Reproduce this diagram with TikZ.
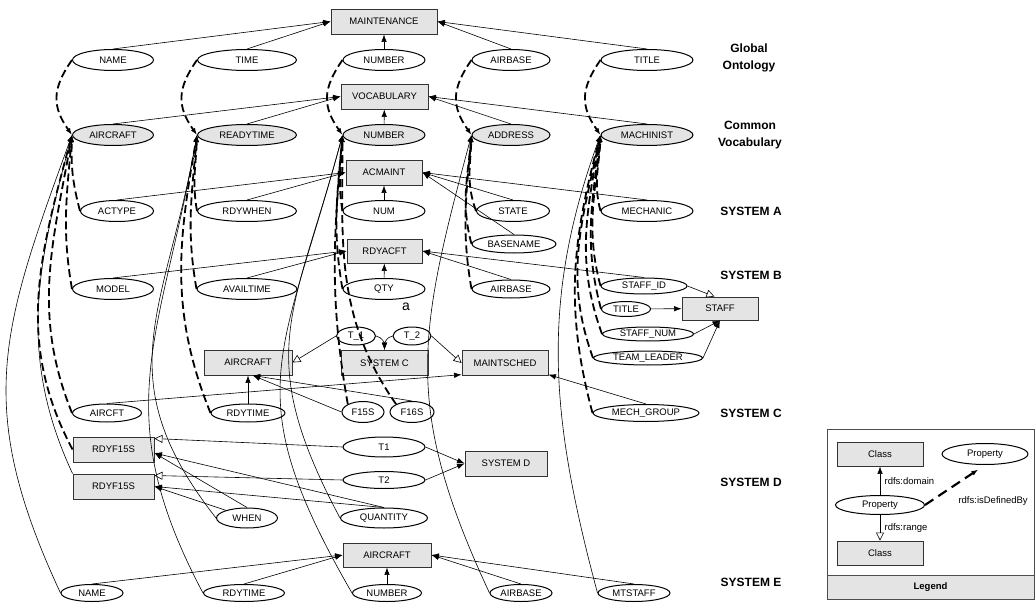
\documentclass[tikz,border=0pt]{standalone}
\usepackage{fontspec}
\setmainfont{Liberation Sans}
\usepackage{tikz}
\usetikzlibrary{arrows.meta, shapes.geometric, calc}
\definecolor{boxgray}{RGB}{228,228,228}

\begin{document}
\begin{tikzpicture}[x=1pt, y=1pt,
  every node/.style={font=\fontsize{9.5}{11}\selectfont},
  cls/.style={draw=black!80, line width=0.9pt, fill=boxgray, minimum height=25pt, inner sep=0pt},
  prop/.style={ellipse, draw=black, line width=1pt, minimum height=21pt, inner sep=0pt},
  vprop/.style={prop, fill=boxgray},
  rowlabel/.style={font=\fontsize{12}{17}\selectfont\bfseries, align=center},
  rel/.style={line width=0.6pt, -{Latex[length=7.5pt,width=5.5pt]}},
  subrel/.style={line width=0.6pt, -{Triangle[open,length=8pt,width=8pt]}},
  defby/.style={line width=1.8pt, dash pattern=on 8pt off 4pt, -{Latex[length=7pt,width=5pt]}},
  lnk/.style={line width=0.6pt, -{Latex[length=7pt,width=5pt]}}
]
\useasboundingbox (0,0) rectangle (1036,-604);

\node (maint) at (384,-21.5) [cls, minimum width=106pt] {MAINTENANCE};
\node (vocab) at (384.5,-96.5) [cls, minimum width=87pt] {VOCABULARY};
\node (acmaint) at (384,-172.5) [cls, minimum width=76pt] {ACMAINT};
\node (rdyacft) at (384.5,-251) [cls, minimum width=75pt, minimum height=24pt] {RDYACFT};
\node (airc) at (248,-362.5) [cls, minimum width=88pt] {AIRCRAFT};
\node (sysc) at (384.5,-363) [cls, minimum width=87pt] {SYSTEM C};
\node (msched) at (505,-363) [cls, minimum width=86pt] {MAINTSCHED};
\node (staff) at (720,-308.5) [cls, minimum width=76pt, minimum height=23pt] {STAFF};
\node (rdyf) at (113.5,-449.5) [cls, minimum width=81pt] {RDYF15S};
\node (rdyg) at (113.5,-486.5) [cls, minimum width=81pt] {RDYF15S};
\node (sysd) at (506,-463.5) [cls, minimum width=82pt] {SYSTEM D};
\node (airce) at (387,-555) [cls, minimum width=88pt, minimum height=24pt] {AIRCRAFT};

\node (gname) at (113,-60) [prop, minimum width=81pt] {NAME};
\node (gtime) at (247,-60) [prop, minimum width=99pt] {TIME};
\node (gnum) at (384,-60) [prop, minimum width=82pt] {NUMBER};
\node (gbase) at (511,-60) [prop, minimum width=78pt] {AIRBASE};
\node (gtitle) at (647,-60) [prop, minimum width=92pt] {TITLE};

\node (vair) at (113,-135) [vprop, minimum width=81pt] {AIRCRAFT};
\node (vrdy) at (247,-135) [vprop, minimum width=99pt] {READYTIME};
\node (vnum) at (384,-135) [vprop, minimum width=82pt] {NUMBER};
\node (vaddr) at (511,-135) [vprop, minimum width=78pt] {ADDRESS};
\node (vmach) at (647,-135) [vprop, minimum width=92pt] {MACHINIST};

\node (atype) at (117,-211) [prop, minimum width=73pt] {ACTYPE};
\node (awhen) at (247,-211) [prop, minimum width=99pt] {RDYWHEN};
\node (anum) at (384,-211) [prop, minimum width=82pt] {NUM};
\node (astate) at (513,-211) [prop, minimum width=73pt] {STATE};
\node (amech) at (647,-211) [prop, minimum width=92pt] {MECHANIC};
\node (abase) at (514,-244) [prop, minimum width=84pt, minimum height=18pt] {BASENAME};

\node (bmodel) at (113,-289) [prop, minimum width=81pt] {MODEL};
\node (bavail) at (247,-289) [prop, minimum width=100pt] {AVAILTIME};
\node (bqty) at (384,-289) [prop, minimum width=82pt] {QTY};
\node (bbase) at (511,-289) [prop, minimum width=78pt, minimum height=18pt] {AIRBASE};
\node (bstaffid) at (644,-286) [prop, minimum width=86pt, minimum height=16pt] {STAFF\_ID};
\node (btitle) at (626,-309) [prop, minimum width=49pt, minimum height=15pt] {TITLE};
\node (bstaffnum) at (648,-334) [prop, minimum width=91pt, minimum height=14pt] {STAFF\_NUM};
\node (blead) at (648,-358) [prop, minimum width=109pt, minimum height=14pt] {TEAM\_LEADER};
\node (amark) at (406,-307) [font=\fontsize{14}{16}\selectfont] {a};

\node (ct1) at (356,-336) [prop, minimum width=39pt, minimum height=18pt] {T\_1};
\node (ct2) at (412,-336) [prop, minimum width=38pt, minimum height=18pt] {T\_2};
\node (caircft) at (107,-413) [prop, minimum width=69pt, minimum height=18pt] {AIRCFT};
\node (crdy) at (248,-413) [prop, minimum width=74pt, minimum height=18pt] {RDYTIME};
\node (cf15) at (363,-412) [prop, minimum width=42pt] {F15S};
\node (cf16) at (412,-412) [prop, minimum width=44pt] {F16S};
\node (cmech) at (646,-413) [prop, minimum width=106pt, minimum height=17pt] {MECH\_GROUP};

\node (dt1) at (384,-447) [prop, minimum width=82pt, minimum height=20pt] {T1};
\node (dt2) at (384,-480) [prop, minimum width=82pt, minimum height=17pt] {T2};
\node (dwhen) at (247,-518) [prop, minimum width=61pt, minimum height=20pt] {WHEN};
\node (dqty) at (384,-518) [prop, minimum width=87pt, minimum height=20pt] {QUANTITY};

\node (ename) at (92,-593) [prop, minimum width=62pt, minimum height=17pt] {NAME};
\node (erdy) at (244,-593) [prop, minimum width=81pt, minimum height=17pt] {RDYTIME};
\node (enum) at (387,-593) [prop, minimum width=69pt, minimum height=17pt] {NUMBER};
\node (ebase) at (521,-593) [prop, minimum width=62pt, minimum height=17pt] {AIRBASE};
\node (estaff) at (634,-593) [prop, minimum width=72pt, minimum height=17pt] {MTSTAFF};

\node (rglobal) at (749,-58) [rowlabel] {Global\\Ontology};
\node (rcommon) at (750,-135) [rowlabel] {Common\\Vocabulary};
\node (rsysa) at (751,-211) [rowlabel] {SYSTEM A};
\node (rsysb) at (751,-275) [rowlabel] {SYSTEM B};
\node (rsysc) at (751,-413) [rowlabel] {SYSTEM C};
\node (rsysd) at (751,-482) [rowlabel] {SYSTEM D};
\node (rsyse) at (751,-582) [rowlabel] {SYSTEM E};

\draw[rel] (gname.north) -- (maint.west);
\draw[rel] (gtime.north) -- (maint.west);
\draw[rel] (gnum) -- (maint);
\draw[rel] (gbase.north) -- (maint.east);
\draw[rel] (gtitle.north) -- (maint.east);

\draw[rel] (vair.north) -- (vocab.west);
\draw[rel] (vrdy.north) -- (vocab.west);
\draw[rel] (vnum) -- (vocab);
\draw[rel] (vaddr.north) -- (vocab.east);
\draw[rel] (vmach.north) -- (vocab.east);

\draw[rel] (atype.north) -- (acmaint.west);
\draw[rel] (awhen.north) -- (acmaint.west);
\draw[rel] (anum) -- (acmaint);
\draw[rel] (astate.north) -- (acmaint.east);
\draw[rel] (abase.north) -- (acmaint.east);
\draw[rel] (amech.north) -- (acmaint.east);

\draw[rel] (bmodel.north) -- (rdyacft.west);
\draw[rel] (bavail.north) -- (rdyacft.west);
\draw[rel] (bqty) -- (rdyacft);
\draw[rel] (bbase.north) -- (rdyacft.east);
\draw[rel] (bstaffid.north) -- (rdyacft.east);
\draw[subrel] (bstaffid.east) -- (staff.115);
\draw[rel] (btitle) -- (staff);
\draw[rel] (bstaffnum.east) -- (staff.south);
\draw[rel] (blead.east) -- (staff.south);

\draw[subrel] (ct1.west) -- (airc.east);
\draw[rel] (ct1.east) to[out=-10,in=90] (sysc.north);
\draw[rel] (ct2.west) to[out=190,in=90] (sysc.north);
\draw[subrel] (ct2.east) -- (msched.west);
\draw[rel] (crdy) -- (airc);
\draw[rel] (cf15.west) -- (airc.-70);
\draw[rel] (cf16.north) -- (airc.-70);
\draw[rel] (caircft.north) -- (msched.-165);
\draw[rel] (cmech.north) -- (msched.-15);

\draw[subrel] (dt1.west) -- (rdyf.15);
\draw[rel] (dt1.east) -- (sysd.west);
\draw[subrel] (dt2.west) -- (rdyg.15);
\draw[rel] (dt2.east) -- (sysd.west);
\draw[rel] (dwhen.north) -- (rdyf.-5);
\draw[rel] (dwhen.160) -- (rdyg.east);
\draw[rel] (dqty.north) -- (rdyf.-5);
\draw[rel] (dqty.north) -- (rdyg.east);

\draw[rel] (ename.north) -- (airce.west);
\draw[rel] (erdy.north) -- (airce.west);
\draw[rel] (enum) -- (airce);
\draw[rel] (ebase.north) -- (airce.east);
\draw[rel] (estaff.north) -- (airce.east);

\draw[defby] (gname.west) to[out=235,in=125,looseness=1.2] (vair.west);
\draw[defby] (atype.west) to[out=105,in=-92] (vair.west);
\draw[defby] (bmodel.west) to[out=100,in=-95] (vair.west);
\draw[defby] (caircft.west) to[out=112,in=-100] (vair.west);
\draw[defby] (rdyf.west) to[out=118,in=-105] (vair.west);
\draw[lnk] (rdyg.north west) to[out=115,in=-105] (vair.west);
\draw[lnk] (ename.west) to[out=115,in=-110,looseness=1.15] (vair.west);

\draw[defby] (gtime.west) to[out=235,in=125,looseness=1.2] (vrdy.west);
\draw[defby] (awhen.west) to[out=100,in=-92] (vrdy.west);
\draw[defby] (bavail.west) to[out=100,in=-95] (vrdy.west);
\draw[defby] (crdy.west) to[out=112,in=-100] (vrdy.west);
\draw[lnk] (dwhen.west) to[out=128,in=-100,looseness=1.2] (vrdy.west);
\draw[lnk] (erdy.west) to[out=118,in=-100,looseness=1.15] (vrdy.west);

\draw[defby] (gnum.west) to[out=235,in=125,looseness=1.2] (vnum.west);
\draw[defby] (anum.west) to[out=100,in=-92] (vnum.west);
\draw[defby] (bqty.west) to[out=100,in=-95] (vnum.west);
\draw[defby] (cf15.north west) to[out=100,in=-95] (vnum.west);
\draw[defby] (cf16.north west) to[out=125,in=-90] (vnum.west);
\draw[lnk] (dqty.west) to[out=118,in=-105,looseness=1.25] (vnum.west);
\draw[lnk] (enum.west) to[out=120,in=-105,looseness=1.3] (vnum.west);

\draw[defby] (gbase.west) to[out=235,in=125,looseness=1.2] (vaddr.west);
\draw[defby] (astate.west) to[out=110,in=-92] (vaddr.west);
\draw[defby] (abase.west) to[out=105,in=-95] (vaddr.west);
\draw[defby] (bbase.west) to[out=100,in=-95] (vaddr.west);
\draw[lnk] (ebase.west) to[out=115,in=-105,looseness=1.15] (vaddr.west);

\draw[defby] (gtitle.west) to[out=235,in=125,looseness=1.2] (vmach.west);
\draw[defby] (amech.west) to[out=105,in=-92] (vmach.west);
\draw[defby] (bstaffid.west) to[out=105,in=-95] (vmach.west);
\draw[defby] (btitle.west) to[out=105,in=-97] (vmach.west);
\draw[defby] (bstaffnum.west) to[out=110,in=-100] (vmach.west);
\draw[defby] (blead.west) to[out=110,in=-102] (vmach.west);
\draw[defby] (cmech.west) to[out=105,in=-105] (vmach.west);
\draw[lnk] (estaff.west) to[out=105,in=-110] (vmach.west);

\draw[draw=black!70, line width=0.8pt] (827,-429) rectangle (1034,-599);
\draw[draw=black!70, line width=0.8pt, fill=boxgray] (827,-575) rectangle (1034,-599);
\node (legend) at (930.5,-587) [font=\fontsize{9.5}{11}\selectfont\bfseries] {Legend};
\node (lcls) at (880,-454) [cls, minimum width=86pt, minimum height=24pt] {Class};
\node (lprop) at (985,-454) [prop, minimum width=86pt] {Property};
\node (lprop2) at (880,-505) [prop, minimum width=89pt, minimum height=19pt] {Property};
\node (lcls2) at (880,-553) [cls, minimum width=86pt, minimum height=24pt] {Class};
\draw[rel] (lprop2) -- (lcls) node[midway, right, xshift=1pt] {rdfs:domain};
\draw[subrel] (lprop2) -- (lcls2) node[midway, right, xshift=1pt] {rdfs:range};
\draw[defby, line width=2.2pt, dash pattern=on 10pt off 6pt, shorten >=8pt] (lprop2.east) -- (lprop.south);
\node (ldefby) at (955,-501) [anchor=west] {rdfs:isDefinedBy};

\end{tikzpicture}
\end{document}
